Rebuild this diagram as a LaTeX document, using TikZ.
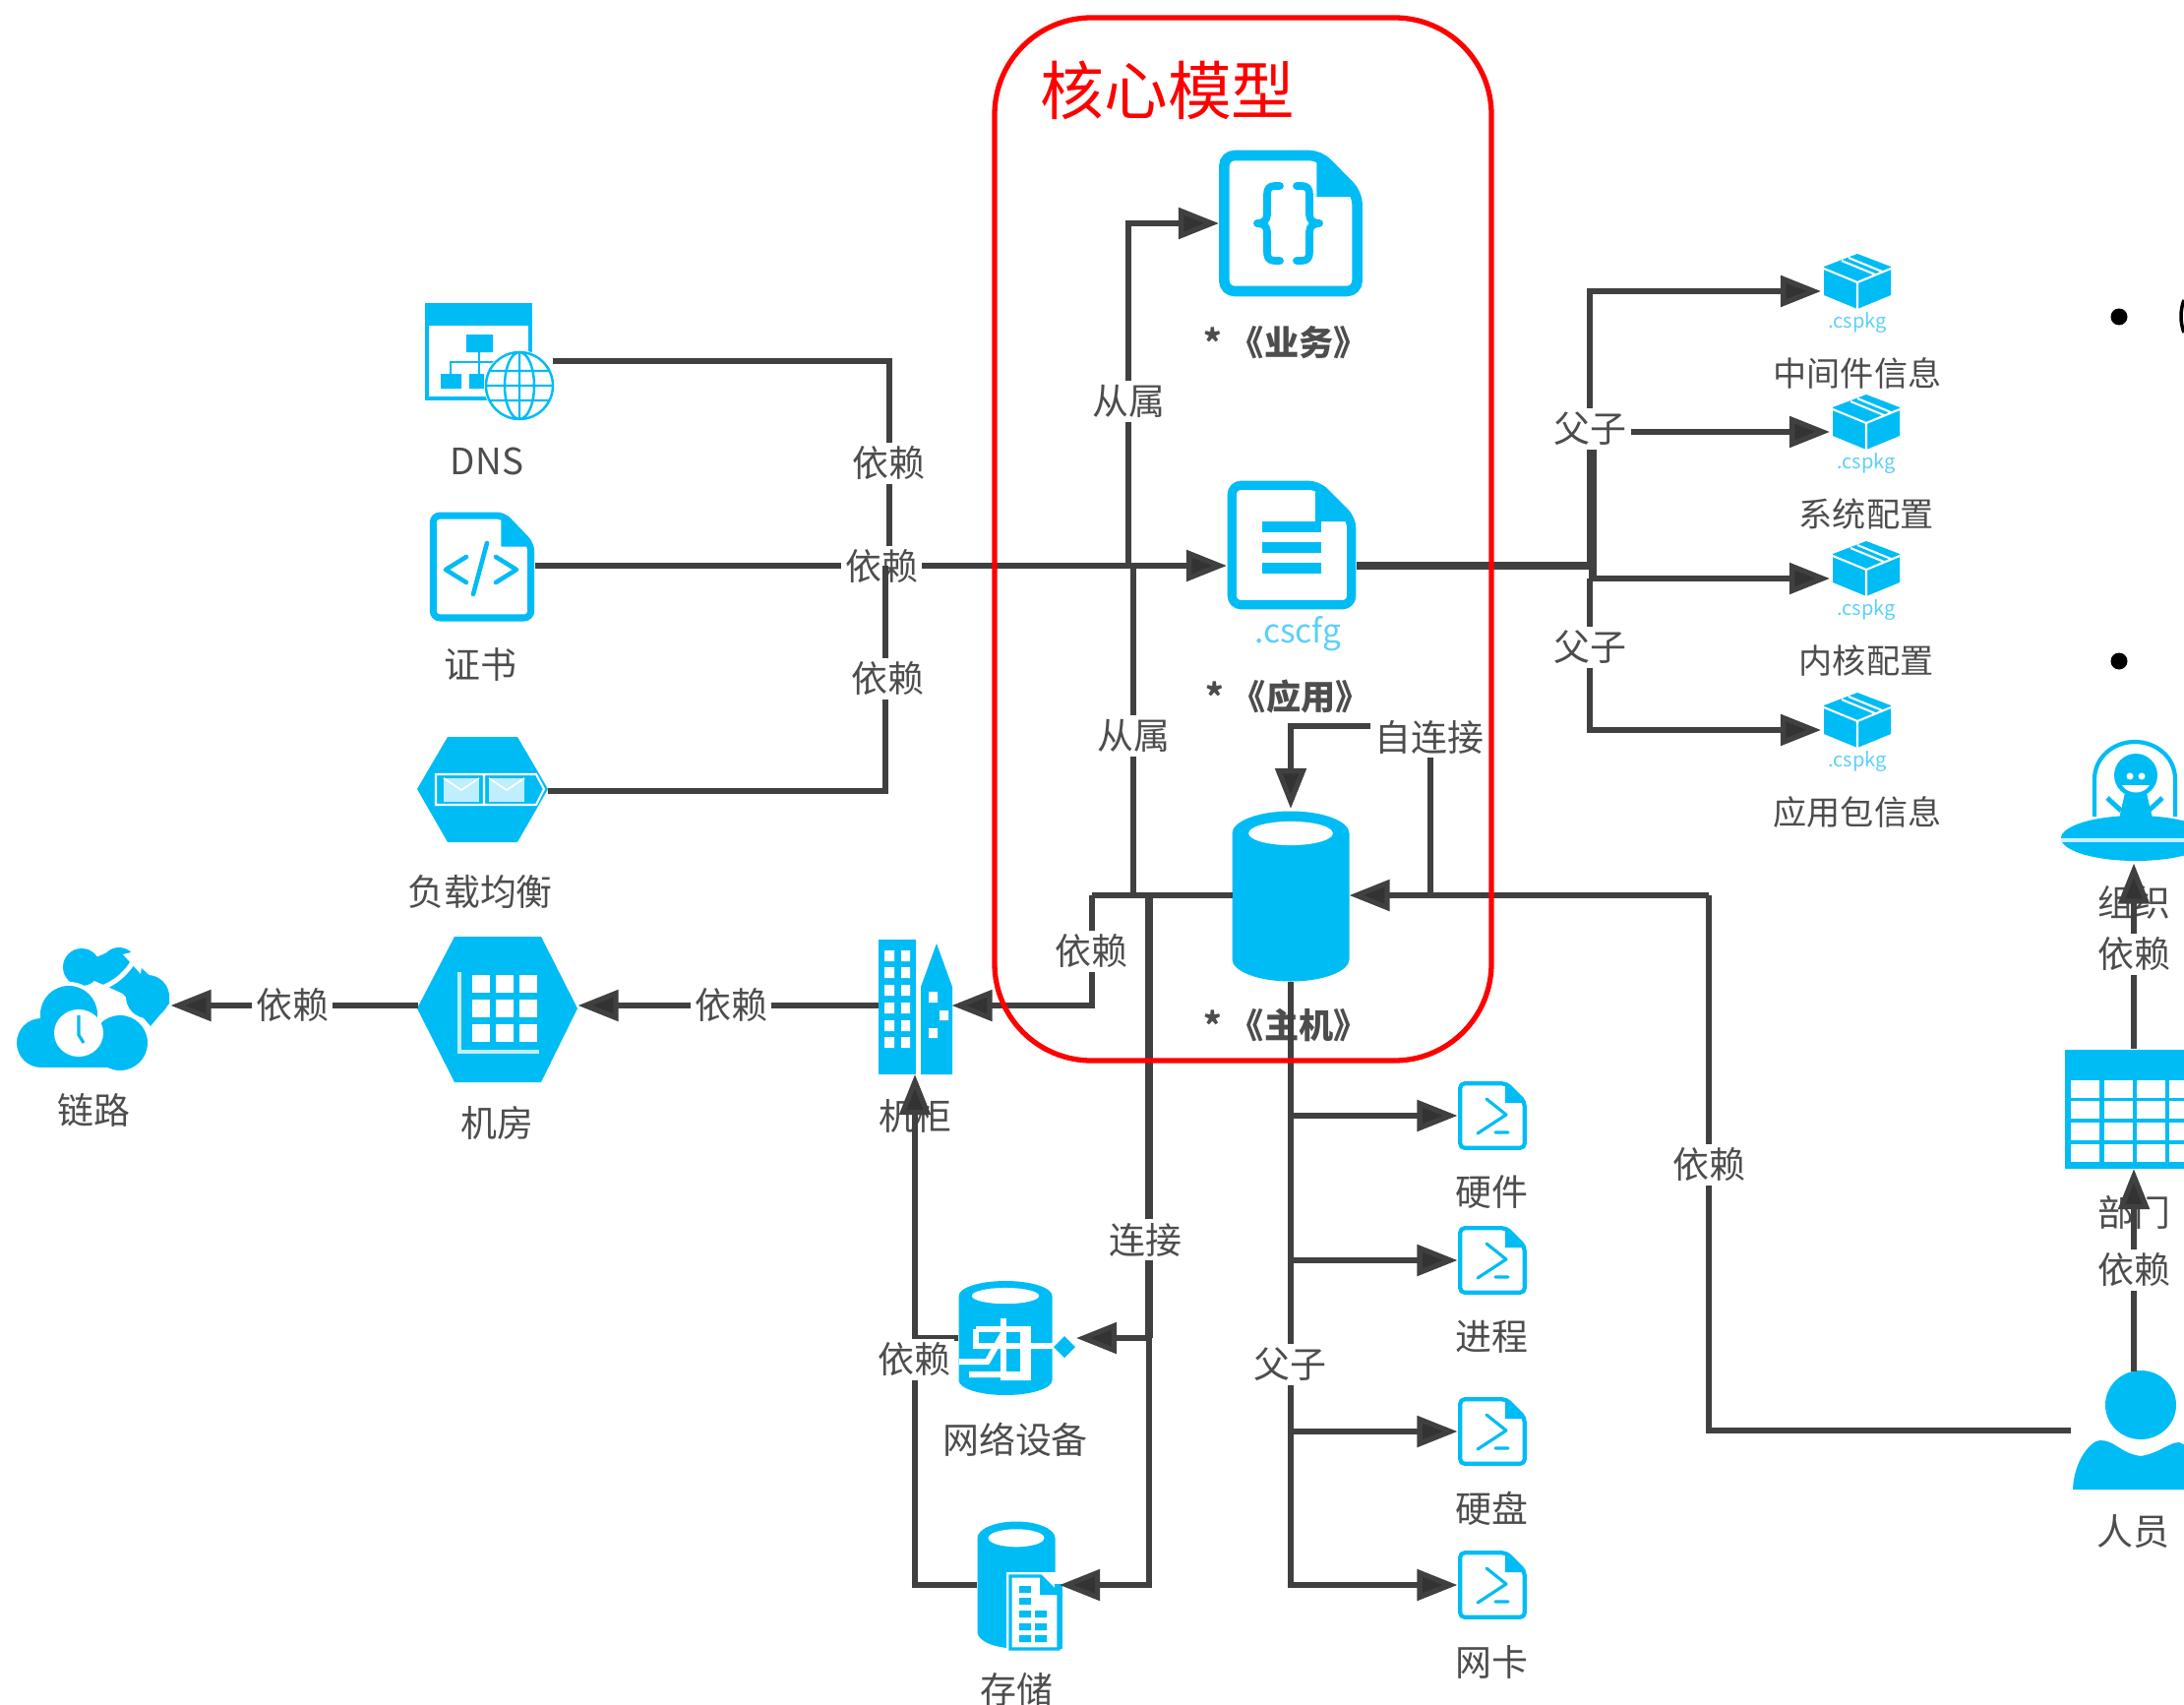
\documentclass[tikz,border=0pt]{standalone}
\usepackage{fontspec}
\setmainfont{Noto Sans CJK SC}
\usetikzlibrary{arrows.meta}
\definecolor{iconblue}{HTML}{00BCF5}
\definecolor{tagblue}{HTML}{5CD0F8}
\definecolor{linegray}{HTML}{404040}
\definecolor{textgray}{HTML}{4D4D4D}
\tikzset{
	conn/.style={draw=linegray, line width=1.5pt, line join=miter},
	dep/.style={conn, -{Triangle[length=4.1mm,width=3.1mm,fill=black!80]}},
	thickbus/.style={draw=linegray, line width=2.4pt},
	boxsize/.style 2 args={minimum width=#1*0.01cm, minimum height=#2*0.01cm},
	iconbox/.style={inner sep=0pt, outer sep=0pt},
	iconcap/.style={inner sep=0pt, text=textgray, font=\fontsize{10.5}{12}\selectfont},
	boldcap/.style={iconcap, font=\fontsize{10}{12}\selectfont\bfseries},
	pkgcap/.style={iconcap, font=\fontsize{9.7}{12}\selectfont},
	pkgtag/.style={inner sep=0pt, text=tagblue, font=\fontsize{5.7}{7}\selectfont},
	edgelab/.style={iconcap, fill=white, inner sep=1.2pt},
	glyph/.style={draw=iconblue, line width=#1, line cap=round, line join=round},
	fileicon/.pic={
		\draw[iconblue, fill=white, line width=#1, rounded corners=#1] (-46,-46)--(20,-46)--(46,-20)--(46,46)--(-46,46)--cycle;
		\fill[iconblue] (18,-47)--(47,-18)--(18,-18)--cycle;
	},
	cube/.pic={
		\fill[iconblue] (0,-28)--(34,-15)--(34,14)--(0,28)--(-34,14)--(-34,-15)--cycle;
		\draw[white, line width=0.6pt] (-34,-13)--(0,1)--(34,-13) (0,1)--(0,28) (-16,-21)--(18,-7) (-9,-24)--(25,-10);
	},
	cylinder/.pic={
		\fill[iconblue] (-50,-37) .. controls (-50,-44) and (-28,-50) .. (0,-50) .. controls (28,-50) and (50,-44) .. (50,-37) -- (50,37) .. controls (50,44) and (28,50) .. (0,50) .. controls (-28,50) and (-50,44) .. (-50,37) -- cycle;
		\fill[white] (0,-37) ellipse [x radius=36, y radius=7];
	},
}
\begin{document}
\begin{tikzpicture}[x=0.01cm, y=-0.01cm, line cap=butt]
	\useasboundingbox (0,0) rectangle (2220,1733);
	
	\node[iconbox, boxsize={146}{152}] (biz) at (1312,227) {};
	\node[iconbox, boxsize={132}{172}] (app) at (1313,575) {};
	\node[iconbox, boxsize={119}{176}] (host) at (1312,910) {};
	\node[iconbox, boxsize={130}{118}] (dns) at (497,367) {};
	\node[iconbox, boxsize={108}{113}] (cert) at (490,575) {};
	\node[iconbox, boxsize={133}{107}] (lb) at (490,804) {};
	\node[iconbox, boxsize={157}{136}] (link) at (95,1022) {};
	\node[iconbox, boxsize={163}{146}] (room) at (506,1022) {};
	\node[iconbox, boxsize={75}{140}] (rack) at (930,1022) {};
	\node[iconbox, boxsize={120}{116}] (net) at (1034,1360) {};
	\node[iconbox, boxsize={84}{130}] (store) at (1035,1611) {};
	\node[iconbox, boxsize={144}{125}] (org) at (2169,815) {};
	\node[iconbox, boxsize={140}{122}] (dept) at (2169,1127) {};
	\node[iconbox, boxsize={128}{120}] (person) at (2169,1454) {};
	
	\pic[xscale=1.47, yscale=1.5] at (1312,227) {fileicon=3pt};
	\draw[glyph=2.2pt] (1301,189) -- (1296,189) .. controls (1290,189) and (1288,192) .. (1288,198) -- (1288,218) .. controls (1288,224) and (1284,227) .. (1278,227) .. controls (1284,227) and (1288,230) .. (1288,236) -- (1288,256) .. controls (1288,262) and (1290,265) .. (1296,265) -- (1301,265);
	\draw[glyph=2.2pt] (1318,189) -- (1323,189) .. controls (1329,189) and (1331,192) .. (1331,198) -- (1331,218) .. controls (1331,224) and (1335,227) .. (1341,227) .. controls (1335,227) and (1331,230) .. (1331,236) -- (1331,256) .. controls (1331,262) and (1329,265) .. (1323,265) -- (1318,265);
	\pic[scale=1.32] at (1313,554) {fileicon=2.6pt};
	\foreach \yy in {530,551,572} \fill[iconblue] (1283,\yy) rectangle (1343,\yy+11);
	\pic[xscale=1.08, yscale=1.13] at (490,576) {fileicon=2pt};
	\draw[glyph=1.3pt] (474,566) -- (453,579) -- (474,592) (495,552) -- (481,604) (504,566) -- (525,579) -- (504,592);
	\pic[xscale=1.19, yscale=1.73] at (1312,911) {cylinder};
	
	\fill[iconblue] (434,310) rectangle (539,331);
	\draw[iconblue, line width=0.9pt] (434,310) rectangle (539,405);
	\fill[iconblue] (474,340) rectangle (501,358) (448,380) rectangle (469,395) (477,380) rectangle (492,395);
	\draw[iconblue, line width=0.7pt] (487,358) -- (487,380) (458,380) -- (458,368) -- (520,368);
	\fill[white] (528,392) circle (36);
	\draw[iconblue, line width=0.7pt] (528,392) circle (34) (528,392) ellipse [x radius=15, y radius=34] (494,392) -- (562,392) (498,377) -- (558,377) (498,407) -- (558,407) (528,358) -- (528,426);
	
	\fill[iconblue] (424,802) -- (455,749) -- (526,749) -- (557,802) -- (526,856) -- (455,856) -- cycle;
	\draw[white, line width=0.6pt] (443,787) -- (545,787) -- (553,802) -- (545,818) -- (443,818) -- cycle (492,787) -- (492,818);
	\foreach \xx in {451,497} {
		\fill[white!75!iconblue] (\xx,791) rectangle (\xx+36,815);
		\draw[white, line width=0.5pt] (\xx,791) -- (\xx+18,803) -- (\xx+36,791);
	}
	
	\fill[iconblue] (424,1025) -- (462,952) -- (550,952) -- (587,1025) -- (550,1100) -- (462,1100) -- cycle;
	\draw[white!75!iconblue, line width=0.9pt] (467,988) -- (467,1069) -- (548,1069);
	\foreach \xx in {480,504,528} \foreach \yy in {991,1016,1041} \fill[white] (\xx,\yy) rectangle (\xx+18,\yy+18);
	
	\fill[iconblue] (893,955) rectangle (931,1092);
	\fill[iconblue] (952,959) -- (968,1003) -- (968,1092) -- (936,1092) -- (936,1003) -- cycle;
	\foreach \yy in {966,983,1001,1019,1037,1054} \fill[white] (899,\yy) rectangle (909,\yy+11) (916,\yy) rectangle (925,\yy+11);
	\fill[white] (944,1008) rectangle (953,1019) (955,1027) rectangle (964,1037) (944,1045) rectangle (953,1055);
	
	\foreach \xx/\yy/\rr in {83/983/19, 121/981/18, 150/1013/22} \fill[iconblue] (\xx,\yy) circle (\rr);
	\fill[iconblue] (70,985) -- (121,963) -- (172,1010) -- (172,1020) -- (153,1043) -- (125,1010) -- cycle;
	\foreach \xx/\yy/\rr in {70/1031/29, 42/1060/25, 122/1060/28} \fill[white] (\xx,\yy) circle (\rr+4);
	\fill[white] (18,1060) rectangle (154,1089);
	\foreach \xx/\yy/\rr in {70/1031/29, 42/1060/25, 122/1060/28} \fill[iconblue] (\xx,\yy) circle (\rr);
	\fill[iconblue] (42,1040) rectangle (122,1085);
	\draw[white, line width=1.4pt] (96,1006) .. controls (110,1003) and (125,995) .. (137,975);
	\fill[white] (125,970) -- (146,965) -- (143,990) -- cycle;
	\fill[white] (80,1050) ellipse [x radius=25, y radius=24];
	\draw[iconblue, line width=0.9pt] (80,1032) -- (80,1052) -- (85,1060);
	
	\pic[xscale=0.95, yscale=1.16] at (1022,1360) {cylinder};
	\draw[white, line width=1.7pt] (992,1351) -- (1045,1351) -- (1045,1400) -- (1020,1400) -- (1020,1340) (1040,1351) -- (1040,1397) -- (985,1397) (975,1384) -- (1005,1384) (1003,1385) -- (1020,1355) (992,1351) -- (992,1368) -- (1072,1368);
	\fill[iconblue] (1082,1358) -- (1093,1369) -- (1082,1380) -- (1071,1369) -- cycle;
	
	\pic[xscale=0.79, yscale=1.29] at (1033,1611) {cylinder};
	\fill[white] (1023,1598) rectangle (1079,1678);
	\fill[iconblue] (1072,1610) rectangle (1080,1676);
	\draw[iconblue, fill=white, line width=0.9pt] (1027,1602) -- (1058,1602) -- (1076,1620) -- (1076,1676) -- (1027,1676) -- cycle;
	\fill[iconblue] (1057,1602) -- (1076,1621) -- (1057,1621) -- cycle;
	\foreach \yy in {1612,1624} \fill[iconblue] (1036,\yy) rectangle (1048,\yy+7);
	\foreach \yy in {1637,1650,1662} \fill[iconblue] (1036,\yy) rectangle (1048,\yy+7) (1052,\yy) rectangle (1064,\yy+7);
	
	\draw[iconblue, line width=1.2pt] (2129,830) -- (2129,792) .. controls (2129,770) and (2148,754) .. (2170,754) .. controls (2192,754) and (2211,770) .. (2211,792) -- (2211,830);
	\fill[iconblue] (2171,788) circle (22);
	\fill[white] (2165,789) circle (3.5);
	\fill[white] (2177,789) circle (3.5);
	\fill[white] (2157,798) .. controls (2163,808) and (2179,808) .. (2185,798) -- cycle;
	\fill[iconblue] (2160,806) -- (2182,806) -- (2188,832) -- (2154,832) -- cycle;
	\draw[iconblue, line width=1.4pt] (2142,811) -- (2156,824) (2198,811) -- (2184,824);
	\fill[iconblue] (2171,852) ellipse [x radius=76, y radius=23];
	\draw[white!80!iconblue, line width=1.1pt] (2095,854) -- (2220,854);
	
	\fill[iconblue] (2099,1067) rectangle (2245,1188);
	\foreach \xx in {2105,2139,2172,2205} \foreach \yy in {1098,1119,1141,1163} \fill[white] (\xx,\yy) rectangle (\xx+29,\yy+18);
	
	\fill[iconblue] (2176,1428) ellipse [x radius=36, y radius=35];
	\fill[iconblue] (2107,1514) .. controls (2108,1485) and (2125,1464) .. (2135,1464) .. controls (2150,1464) and (2155,1477) .. (2176,1480) .. controls (2195,1477) and (2205,1466) .. (2215,1466) .. controls (2228,1470) and (2240,1490) .. (2243,1514) -- cycle;
	
	\foreach \nm/\yy/\txt in {hw/1134/硬件, proc/1281/进程, disk/1455/硬盘, nic/1611/网卡} {
		\node[iconbox, boxsize={71}{71}] (\nm) at (1517,\yy) {};
		\pic[scale=0.71] at (\nm) {fileicon=1.2pt};
		\draw[glyph=0.9pt] (1511,\yy-17) -- (1531,\yy-1) -- (1502,\yy+18) (1520,\yy+17) -- (1533,\yy+17);
		\node[iconcap] (\nm-cap) at (1516,\yy+78) {\txt};
	}
	\foreach \nm/\xx/\yy/\txt in {pkga/1888/296/中间件信息, pkgb/1897/439/系统配置, pkgc/1897/588/内核配置, pkgd/1888/742/应用包信息} {
		\node[iconbox, boxsize={74}{84}] (\nm) at (\xx,\yy) {};
		\pic at (\xx,\yy-10) {cube};
		\node[pkgtag] (\nm-tag) at (\xx,\yy+32) {.cspkg};
		\node[pkgcap] (\nm-cap) at (\xx,\yy+83) {\txt};
	}
	
	\node[iconcap] (dns-cap) at (495,469) {DNS};
	\node[iconcap] (cert-cap) at (488,675) {证书};
	\node[iconcap] (lb-cap) at (488,906) {负载均衡};
	\node[iconcap] (link-cap) at (95,1128) {链路};
	\node[iconcap] (room-cap) at (505,1141) {机房};
	\node[iconcap] (rack-cap) at (930,1134) {机柜};
	\node[iconcap] (net-cap) at (1032,1463) {网络设备};
	\node[iconcap] (store-cap) at (1033,1717) {存储};
	\node[iconcap] (org-cap) at (2169,917) {组织};
	\node[iconcap] (dept-cap) at (2169,1232) {部门};
	\node[iconcap] (person-cap) at (2168,1557) {人员};
	\node[boldcap] (biz-cap) at (1307,348) {* 《业务》};
	\node[boldcap] (app-cap) at (1309,708) {* 《应用》};
	\node[boldcap] (host-cap) at (1307,1042) {* 《主机》};
	\node[inner sep=0pt, text=tagblue, font=\fontsize{9.5}{11}\selectfont] (app-tag) at (1319,644) {.cscfg};
	
	\coordinate (mainup) at (1147,575);
	\coordinate (maindown) at (1152,575);
	\coordinate (hostjoin) at (1152,910);
	\coordinate (hostbus) at (1168,910);
	\coordinate (busjoin) at (1168,1360);
	\coordinate (hostbend) at (1110,910);
	\coordinate (selfstart) at (1454,910);
	\coordinate (selftop) at (1454,738);
	\coordinate (dnsjoin) at (904,575);
	\coordinate (lbjoin) at (900,575);
	\coordinate (personbend) at (1737,910);
	\coordinate (pkgbus) at (1616,575);
	\coordinate (pkgbranch) at (1616,588);
	\coordinate (thicktop) at (1619,445);
	\coordinate (thickend) at (1619,588);
	
	\draw[dep] (cert.east) -- (app.west);
	\draw[conn] (dns.east) -| (dnsjoin);
	\node[edgelab] (dep-dns) at (903,471) {依赖};
	\node[edgelab] (dep-cert) at (896,576) {依赖};
	\draw[conn] (lb.east) -| (lbjoin);
	\node[edgelab] (dep-lb) at (902,690) {依赖};
	\draw[dep] (mainup) |- (biz.west);
	\draw[conn] (maindown) -- (hostjoin);
	\node[edgelab] (sub-biz) at (1147,408) {从属};
	\node[edgelab] (sub-app) at (1152,748) {从属};
	
	\draw[conn, line width=2pt] (app.east) -- (pkgbus);
	\draw[dep] (pkgbus) |- (pkga.west);
	\draw[thickbus] (thicktop) -- (thickend);
	\draw[dep] (pkgbranch) -- (pkgc.west);
	\draw[dep] (pkgbranch) |- (pkgd.west);
	\node[edgelab] (fz-top) at (1616,436) {父子};
	\node[edgelab] (fz-low) at (1616,658) {父子};
	\draw[dep] (fz-top.east |- pkgb.west) -- (pkgb.west);
	
	\draw[conn] (host.west) -- (hostbend);
	\draw[dep] (hostbend) |- (rack.east);
	\node[edgelab] (dep-host) at (1109,967) {依赖};
	\draw[dep] (rack.west) -- (room.east);
	\node[edgelab] (dep-rack) at (743,1022) {依赖};
	\draw[dep] (room.west) -- (link.east);
	\node[edgelab] (dep-room) at (297,1022) {依赖};
	
	\draw[thickbus] (hostbus) -- (busjoin);
	\draw[dep] (busjoin) -- (net.east);
	\draw[dep] (busjoin) |- (store.east);
	\node[edgelab] (link-net) at (1164,1260) {连接};
	\draw[dep] (store.west) -| (rack.south);
	\draw[conn] (net.west) -- (net.west -| rack.south);
	\node[edgelab] (dep-net) at (929,1382) {依赖};
	
	\draw[conn] (selfstart) -- (selftop);
	\draw[dep] (selftop) -| (host.north);
	\node[edgelab] (self-host) at (1453,749) {自连接};
	\draw[conn] (person.west) -| (personbend);
	\draw[dep] (personbend) -- (host.east);
	\node[edgelab] (dep-person) at (1737,1184) {依赖};
	
	\draw[dep] (host.south) |- (nic.west);
	\foreach \nm in {hw,proc,disk} \draw[dep] (host.south |- \nm.west) -- (\nm.west);
	\node[edgelab] (fz-host) at (1311,1387) {父子};
	
	\draw[dep] (person.north) -- (dept.south);
	\node[edgelab] (dep-dept) at (2169,1291) {依赖};
	\draw[dep] (dept.north) -- (org.south);
	\node[edgelab] (dep-org) at (2169,970) {依赖};
	
	\fill[black] (2154,322) circle (8.5);
	\fill[black] (2154,672) circle (8.5);
	\draw[black, line width=1pt] (2220,305) .. controls (2216,315) and (2216,328) .. (2220,338);
	
	\node[draw=red, line width=1.5pt, rounded corners=28pt, iconbox, boxsize={505}{1060}] (core) at (1263.5,548) {};
	\node[inner sep=0pt, text=red, font=\fontsize{18.4}{22}\selectfont] (core-title) at (1187,92) {核心模型};
\end{tikzpicture}
\end{document}
